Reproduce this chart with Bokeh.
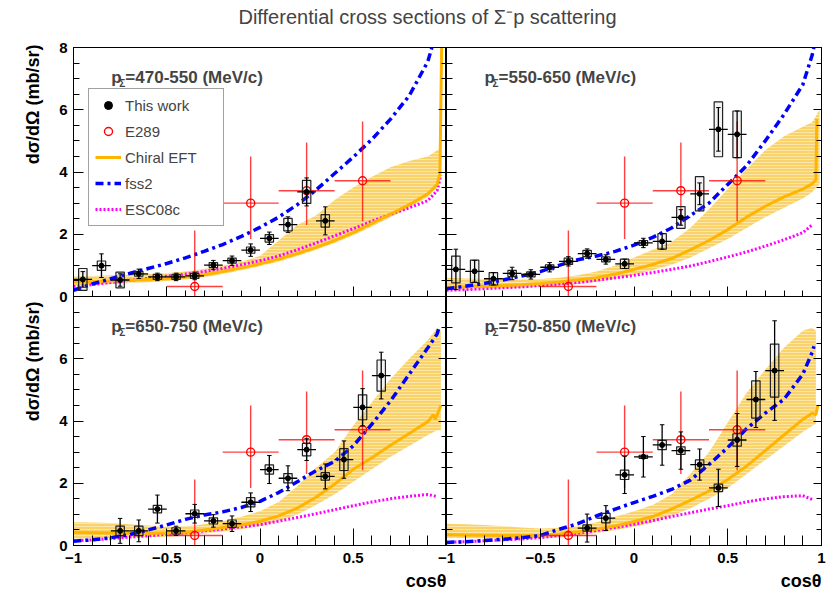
import numpy as np
from bokeh.plotting import figure
from bokeh.models import (Range1d, LinearAxis, SingleIntervalTicker, Label, Legend, Title,
                          LegendItem, ColumnDataSource, CustomJSTickFormatter)
from bokeh.layouts import column, row
from bokeh.embed import file_html
from bokeh.resources import INLINE

FONT = "Liberation Sans"
TITLE = "Differential cross sections of \u03a3\u207bp scattering"
Y_TITLE = "d\u03c3/d\u03a9 (mb/sr)"
X_TITLE = "cos\u03b8"
PANEL_TEXT = ["=470-550 (MeV/c)", "=550-650 (MeV/c)", "=650-750 (MeV/c)", "=750-850 (MeV/c)"]

G = [-1.0, -0.9, -0.8, -0.7, -0.6, -0.5, -0.4, -0.3, -0.2, -0.1, 0.0,
     0.1, 0.2, 0.3, 0.4, 0.5, 0.6, 0.7, 0.8, 0.9, 0.95]

# ---------------- This work ----------------
TW_X1 = [-0.95, -0.85, -0.75, -0.65, -0.55, -0.45, -0.35, -0.25, -0.15, -0.05, 0.05, 0.15, 0.25, 0.35]
TW_Y1 = [0.55, 0.99, 0.53, 0.73, 0.63, 0.63, 0.66, 1.01, 1.15, 1.49, 1.87, 2.31, 3.36, 2.43]
TW_STAT1 = [0.25, 0.38, 0.2, 0.15, 0.12, 0.12, 0.12, 0.15, 0.15, 0.2, 0.2, 0.25, 0.45, 0.45]
TW_SYS1 = [0.35, 0.15, 0.25, 0.08, 0.08, 0.08, 0.08, 0.08, 0.08, 0.1, 0.12, 0.2, 0.37, 0.2]

TW_X2 = [-0.95, -0.85, -0.75, -0.65, -0.55, -0.45, -0.35, -0.25, -0.15, -0.05, 0.05, 0.15, 0.25, 0.35, 0.45, 0.55]
TW_Y2 = [0.87, 0.81, 0.57, 0.74, 0.71, 0.94, 1.13, 1.38, 1.19, 1.05, 1.72, 1.77, 2.54, 3.3, 5.37, 5.21]
TW_STAT2 = [0.65, 0.35, 0.2, 0.2, 0.15, 0.15, 0.15, 0.15, 0.15, 0.15, 0.15, 0.25, 0.25, 0.35, 0.7, 0.75]
TW_SYS2 = [0.43, 0.36, 0.2, 0.1, 0.08, 0.08, 0.1, 0.1, 0.08, 0.15, 0.08, 0.25, 0.35, 0.55, 0.88, 0.75]

TW_X3 = [-0.75, -0.65, -0.55, -0.45, -0.35, -0.25, -0.15, -0.05, 0.05, 0.15, 0.25, 0.35, 0.45, 0.55, 0.65]
TW_Y3 = [0.47, 0.47, 1.17, 0.47, 1.02, 0.79, 0.70, 1.39, 2.44, 2.16, 3.08, 2.22, 2.76, 4.44, 5.46]
TW_STAT3 = [0.4, 0.35, 0.45, 0.15, 0.3, 0.2, 0.25, 0.3, 0.45, 0.4, 0.35, 0.4, 0.6, 0.6, 0.75]
TW_SYS3 = [0.15, 0.15, 0.12, 0.1, 0.12, 0.1, 0.12, 0.15, 0.15, 0.15, 0.2, 0.12, 0.35, 0.4, 0.5]

TW_X4 = [-0.25, -0.15, -0.05, 0.05, 0.15, 0.25, 0.35, 0.45, 0.55, 0.65, 0.75]
TW_Y4 = [0.56, 0.88, 2.27, 2.85, 3.23, 3.05, 2.6, 1.85, 3.39, 4.69, 5.62]
TW_STAT4 = [0.45, 0.4, 0.6, 0.65, 0.65, 0.6, 0.5, 0.6, 0.85, 0.9, 1.6]
TW_SYS4 = [0.1, 0.15, 0.15, 0.05, 0.15, 0.12, 0.15, 0.12, 0.2, 0.6, 0.85]

TW_XERR = 0.05

# ---------------- E289 ----------------
E289_X = [-0.35, -0.05, 0.25, 0.55]
E289_Y = [0.32, 3.0, 3.4, 3.72]
E289_UP = [1.8, 1.5, 1.55, 1.9]
E289_DN = [0.32, 1.15, 1.1, 1.3]
E289_XERR = [0.15, 0.15, 0.15, 0.15]

# ---------------- Theory curves ----------------
FSS2_X1 = G
FSS2_Y1 = [0.2, 0.4, 0.57, 0.74, 0.9, 1.06, 1.24, 1.45, 1.67, 1.93, 2.22, 2.55, 2.95, 3.42, 3.95, 4.48, 5.05, 5.7, 6.45, 7.55, 8.6]
CH_X1 = G + [0.965, 0.975]
CH_Y1 = [0.47, 0.48, 0.5, 0.52, 0.55, 0.58, 0.63, 0.7, 0.8, 0.92, 1.05, 1.2, 1.38, 1.58, 1.8, 2.05, 2.35, 2.65, 2.95, 3.3, 3.6, 3.95, 8.5]
BAND_X1 = G + [0.97]
BAND_LO1 = [0.35, 0.37, 0.4, 0.43, 0.46, 0.5, 0.55, 0.62, 0.72, 0.84, 0.98, 1.12, 1.3, 1.5, 1.72, 1.97, 2.25, 2.55, 2.85, 3.2, 3.5, 3.9]
BAND_HI1 = [0.65, 0.66, 0.68, 0.7, 0.72, 0.75, 0.8, 0.88, 0.98, 1.12, 1.3, 1.8, 2.3, 2.6, 3.1, 3.5, 3.85, 4.15, 4.35, 4.5, 4.7, 4.75]
ESC_X1 = G + [0.97]
ESC_Y1 = [0.32, 0.38, 0.45, 0.52, 0.58, 0.65, 0.72, 0.8, 0.9, 1.02, 1.15, 1.3, 1.5, 1.72, 1.95, 2.18, 2.42, 2.64, 2.85, 3.08, 3.4, 3.9]

FSS2_X2 = G + [0.97]
FSS2_Y2 = [0.25, 0.33, 0.42, 0.53, 0.66, 0.8, 1.0, 1.18, 1.3, 1.45, 1.65, 1.9, 2.2, 2.6, 3.0, 3.6, 4.2, 5.0, 5.85, 6.8, 7.75, 8.3]
CH_X2 = G + [0.97, 0.975]
CH_Y2 = [0.3, 0.31, 0.33, 0.35, 0.38, 0.42, 0.47, 0.53, 0.6, 0.72, 0.87, 1.03, 1.22, 1.5, 1.8, 2.15, 2.55, 2.9, 3.2, 3.45, 3.62, 3.75, 5.7]
BAND_X2 = G + [0.97, 0.99]
BAND_LO2 = [0.2, 0.21, 0.23, 0.25, 0.28, 0.31, 0.35, 0.4, 0.47, 0.57, 0.7, 0.85, 1.02, 1.25, 1.55, 1.85, 2.2, 2.55, 2.85, 3.15, 3.35, 3.5, 3.6]
BAND_HI2 = [0.6, 0.58, 0.56, 0.55, 0.55, 0.56, 0.6, 0.68, 0.8, 1.0, 1.25, 1.5, 1.75, 2.2, 2.8, 3.45, 4.1, 4.7, 5.15, 5.45, 5.6, 5.8, 6.0]
ESC_X2 = G
ESC_Y2 = [0.2, 0.22, 0.25, 0.28, 0.31, 0.35, 0.4, 0.45, 0.52, 0.6, 0.68, 0.77, 0.87, 0.98, 1.12, 1.27, 1.43, 1.62, 1.82, 2.05, 2.3]

FSS2_X3 = G + [0.96]
FSS2_Y3 = [0.14, 0.18, 0.25, 0.35, 0.5, 0.66, 0.84, 0.98, 1.08, 1.22, 1.42, 1.7, 2.05, 2.4, 2.7, 3.2, 3.9, 4.65, 5.5, 6.35, 6.8, 7.0]
CH_X3 = G[:-1] + [0.93, 0.94, 0.97]
CH_Y3 = [0.42, 0.41, 0.4, 0.39, 0.39, 0.4, 0.43, 0.5, 0.58, 0.66, 0.78, 0.95, 1.2, 1.55, 1.97, 2.45, 2.82, 3.22, 3.6, 3.98, 4.2, 4.05, 4.5]
BAND_X3 = G + [0.97]
BAND_LO3 = [0.22, 0.24, 0.25, 0.26, 0.27, 0.28, 0.32, 0.38, 0.45, 0.52, 0.62, 0.78, 1.0, 1.3, 1.65, 2.05, 2.45, 2.85, 3.2, 3.55, 3.7, 3.7]
BAND_HI3 = [0.75, 0.74, 0.72, 0.68, 0.64, 0.6, 0.62, 0.68, 0.78, 0.92, 1.1, 1.4, 1.9, 2.5, 3.0, 3.85, 4.6, 5.35, 6.0, 6.6, 7.0, 6.9]
ESC_X3 = G
ESC_Y3 = [0.15, 0.18, 0.22, 0.27, 0.31, 0.36, 0.41, 0.47, 0.53, 0.6, 0.67, 0.78, 0.9, 1.02, 1.15, 1.28, 1.4, 1.5, 1.58, 1.64, 1.57]

FSS2_X4 = G + [0.96]
FSS2_Y4 = [0.1, 0.12, 0.16, 0.2, 0.25, 0.32, 0.52, 0.7, 0.95, 1.17, 1.38, 1.58, 1.8, 2.1, 2.6, 3.15, 3.75, 4.25, 4.7, 5.5, 6.2, 6.4]
CH_X4 = G + [0.97, 0.98]
CH_Y4 = [0.35, 0.34, 0.33, 0.32, 0.32, 0.33, 0.37, 0.44, 0.53, 0.63, 0.77, 0.93, 1.17, 1.45, 1.75, 2.12, 2.55, 3.05, 3.55, 4.05, 4.25, 4.2, 4.5]
BAND_X4 = G + [0.97]
BAND_LO4 = [0.25, 0.24, 0.23, 0.22, 0.22, 0.23, 0.26, 0.32, 0.4, 0.5, 0.6, 0.75, 0.95, 1.2, 1.5, 1.85, 2.3, 2.75, 3.2, 3.65, 3.85, 3.9]
BAND_HI4 = [0.7, 0.68, 0.66, 0.62, 0.58, 0.55, 0.56, 0.62, 0.75, 0.92, 1.1, 1.3, 1.65, 2.3, 3.0, 3.95, 4.9, 5.65, 6.35, 6.9, 7.0, 6.9]
ESC_X4 = G
ESC_Y4 = [0.1, 0.12, 0.15, 0.18, 0.21, 0.25, 0.32, 0.4, 0.48, 0.58, 0.68, 0.8, 0.93, 1.05, 1.17, 1.28, 1.4, 1.5, 1.57, 1.6, 1.48]

PANELS = [
    dict(tw=(TW_X1, TW_Y1, TW_STAT1, TW_SYS1), fss2=(FSS2_X1, FSS2_Y1), ch=(CH_X1, CH_Y1),
         band=(BAND_X1, BAND_LO1, BAND_HI1), esc=(ESC_X1, ESC_Y1)),
    dict(tw=(TW_X2, TW_Y2, TW_STAT2, TW_SYS2), fss2=(FSS2_X2, FSS2_Y2), ch=(CH_X2, CH_Y2),
         band=(BAND_X2, BAND_LO2, BAND_HI2), esc=(ESC_X2, ESC_Y2)),
    dict(tw=(TW_X3, TW_Y3, TW_STAT3, TW_SYS3), fss2=(FSS2_X3, FSS2_Y3), ch=(CH_X3, CH_Y3),
         band=(BAND_X3, BAND_LO3, BAND_HI3), esc=(ESC_X3, ESC_Y3)),
    dict(tw=(TW_X4, TW_Y4, TW_STAT4, TW_SYS4), fss2=(FSS2_X4, FSS2_Y4), ch=(CH_X4, CH_Y4),
         band=(BAND_X4, BAND_LO4, BAND_HI4), esc=(ESC_X4, ESC_Y4)),
]

C_CHIRAL = "#ffb400"
C_BAND = "#f8c843"
C_FSS2 = "#0000ff"
C_ESC = "#ff00ff"
C_E289 = "#ff0000"
SEAM = 9  # overlap (px) between neighbouring canvases so seam labels are not clipped


def style_axis(ax, show, major_in, minor_in, standoff=6, horizontal=False):
    ax.major_tick_in = major_in
    ax.major_tick_out = 0
    ax.minor_tick_in = minor_in
    ax.minor_tick_out = 0
    ax.axis_line_color = "black"
    ax.major_tick_line_color = "black"
    ax.minor_tick_line_color = "black"
    ax.major_label_text_font = FONT
    ax.major_label_text_font_style = "bold"
    ax.major_label_text_color = "black"
    if show:
        ax.major_label_text_font_size = "15px"
        ax.major_label_standoff = standoff
    else:
        ax.formatter = CustomJSTickFormatter(code="return ''")
        ax.major_label_text_font_size = "1px" if horizontal else "15px"
        ax.major_label_standoff = 0


def make_fig(w, h, mbl, mbr, mbt, mbb, left_labels, bottom_labels, bottom_long):
    p = figure(width=w, height=h, x_range=Range1d(-1, 1), y_range=Range1d(0, 8),
               output_backend="svg", toolbar_location=None, x_axis_type=None, y_axis_type=None)
    p.min_border = 0
    p.min_border_left = mbl
    p.min_border_right = mbr
    p.min_border_top = mbt
    p.min_border_bottom = mbb
    p.outline_line_color = "black"
    p.outline_line_width = 1
    p.background_fill_color = "white"
    p.border_fill_alpha = 0.0

    xa = LinearAxis(ticker=SingleIntervalTicker(interval=0.5, num_minor_ticks=5))
    if bottom_long:
        style_axis(xa, bottom_labels, 17, 10, standoff=7, horizontal=True)
    else:
        style_axis(xa, bottom_labels, 10, 6, standoff=7, horizontal=True)
    p.add_layout(xa, "below")

    ya = LinearAxis(ticker=SingleIntervalTicker(interval=2, num_minor_ticks=4))
    style_axis(ya, left_labels, 10, 6, standoff=6)
    p.add_layout(ya, "left")

    yr = LinearAxis(ticker=SingleIntervalTicker(interval=2, num_minor_ticks=4))
    style_axis(yr, False, 8, 5)
    p.add_layout(yr, "right")
    return p, xa, ya


def draw_panel(p, d, label_text):
    bx, blo, bhi = d["band"]
    p.varea(x=bx, y1=blo, y2=bhi, fill_color=C_BAND, fill_alpha=0.8,
            hatch_pattern="horizontal_line", hatch_color="white", hatch_alpha=0.55,
            hatch_scale=3, hatch_weight=0.8)
    ex, ey = d["esc"]
    r_esc = p.line(ex, ey, line_color=C_ESC, line_width=3, line_dash="2 2")
    cx, cy = d["ch"]
    r_ch = p.line(cx, cy, line_color=C_CHIRAL, line_width=3)
    fx, fy = d["fss2"]
    r_fss = p.line(fx, fy, line_color=C_FSS2, line_width=3.5, line_dash="8 4 3 4")

    # E289
    ex_ = np.array(E289_X)
    ey_ = np.array(E289_Y)
    src_e = ColumnDataSource(dict(x=ex_, y=ey_, ylo=ey_ - np.array(E289_DN), yhi=ey_ + np.array(E289_UP),
                                  xlo=ex_ - np.array(E289_XERR), xhi=ex_ + np.array(E289_XERR)))
    p.segment(x0="x", y0="ylo", x1="x", y1="yhi", source=src_e, line_color=C_E289, line_width=1.4, line_alpha=0.75)
    p.segment(x0="xlo", y0="y", x1="xhi", y1="y", source=src_e, line_color=C_E289, line_width=1.4, line_alpha=0.75)
    r_e289 = p.scatter("x", "y", source=src_e, marker="circle", size=8, fill_color="white", fill_alpha=0.0,
                       line_color=C_E289, line_width=1.4)

    # This work
    tx, ty, ts, tsys = [np.array(a) for a in d["tw"]]
    src_t = ColumnDataSource(dict(x=tx, y=ty, ylo=ty - ts, yhi=ty + ts, xlo=tx - TW_XERR, xhi=tx + TW_XERR,
                                  h=2 * tsys, cl=tx - 0.012, cr=tx + 0.012))
    p.rect(x="x", y="y", width=0.045, height="h", source=src_t, fill_color="#999999", fill_alpha=0.12,
           line_color="#222222", line_width=1.2)
    p.segment(x0="x", y0="ylo", x1="x", y1="yhi", source=src_t, line_color="black", line_width=1.3)
    p.segment(x0="xlo", y0="y", x1="xhi", y1="y", source=src_t, line_color="black", line_width=1.3)
    p.segment(x0="cl", y0="ylo", x1="cr", y1="ylo", source=src_t, line_color="black", line_width=1)
    p.segment(x0="cl", y0="yhi", x1="cr", y1="yhi", source=src_t, line_color="black", line_width=1)
    r_tw = p.scatter("x", "y", source=src_t, marker="circle", size=5, fill_color="black", line_color="black")

    # panel label p_Sigma=...
    x0 = -0.797
    yb = 7.03
    p.add_layout(Label(x=x0, y=yb, text="p", text_font=FONT, text_font_style="bold",
                       text_font_size="17px", text_baseline="alphabetic", text_align="left"))
    p.add_layout(Label(x=x0, y=yb, x_offset=8, y_offset=-6, text="\u03a3", text_font=FONT,
                       text_font_style="bold", text_font_size="10px", text_baseline="middle", text_align="left"))
    p.add_layout(Label(x=x0, y=yb, x_offset=14, text=label_text, text_font=FONT, text_font_style="bold",
                       text_font_size="17px", text_baseline="alphabetic", text_align="left"))
    return r_tw, r_e289, r_ch, r_fss, r_esc


# Layout sizes
LW, RW = 446, 393
TH, BH = 259, 303

p1, x1, y1 = make_fig(LW, TH + SEAM, 73, 0, 10, SEAM, True, False, False)
p2, x2, y2 = make_fig(RW, TH + SEAM, 0, 18, 10, SEAM, False, False, False)
p3, x3, y3 = make_fig(LW, BH, 73, 0, 0, 54, True, True, True)
p4, x4, y4 = make_fig(RW + SEAM, BH, SEAM, 18, 0, 54, False, True, True)
p4.margin = (0, 0, 0, -SEAM)

# hidden tick labels where neighbouring panels meet
y3.major_label_overrides = {8: ""}
x3.major_label_overrides = {1: ""}

# axis titles (ROOT style: aligned to the far end of the axis)
for p, off in ((p1, -3), (p3, 5)):
    p.add_layout(Title(text=Y_TITLE, align="right", text_font=FONT, text_font_style="bold",
                       text_font_size="18px", text_color="black", standoff=28, offset=off), "left")
for p in (p3, p4):
    p.add_layout(Title(text=X_TITLE, align="right", text_font=FONT, text_font_style="bold",
                       text_font_size="18px", text_color="black", standoff=7), "below")

rs = None
for p, d, t in zip((p1, p2, p3, p4), PANELS, PANEL_TEXT):
    r = draw_panel(p, d, t)
    if rs is None:
        rs = r

legend = Legend(items=[LegendItem(label="This work", renderers=[rs[0]]),
                       LegendItem(label="E289", renderers=[rs[1]]),
                       LegendItem(label="Chiral EFT", renderers=[rs[2]]),
                       LegendItem(label="fss2", renderers=[rs[3]]),
                       LegendItem(label="ESC08c", renderers=[rs[4]])],
                location=(15, 70))
legend.label_text_font = FONT
legend.label_text_font_size = "15px"
legend.glyph_width = 26
legend.glyph_height = 20
legend.label_height = 20
legend.label_width = 92
legend.label_standoff = 4
legend.spacing = 6
legend.padding = 6
legend.margin = 0
legend.border_line_color = "#444444"
legend.border_line_width = 1.5
legend.background_fill_color = "white"
legend.background_fill_alpha = 1.0
p1.add_layout(legend)

# Title strip
pt = figure(width=839, height=37, x_range=Range1d(0, 839), y_range=Range1d(0, 37),
            output_backend="svg", toolbar_location=None, x_axis_type=None, y_axis_type=None)
pt.min_border = 0
pt.outline_line_color = None
pt.add_layout(Label(x=427, y=21, text=TITLE, text_font=FONT, text_font_size="20px",
                    text_align="center", text_baseline="middle"))

bottom_row = row(p3, p4)
bottom_row.margin = (-SEAM, 0, 0, 0)
layout = column(pt, row(p1, p2), bottom_row)
open("out.html", "w").write(file_html(layout, INLINE))
